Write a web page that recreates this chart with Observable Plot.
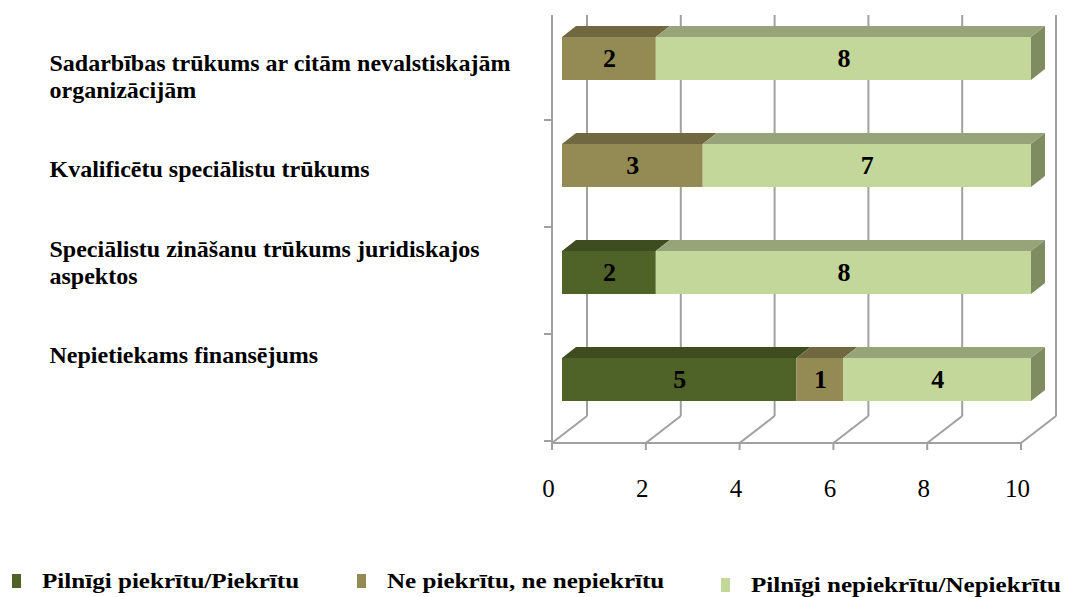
<!DOCTYPE html>
<html><head><meta charset="utf-8">
<script src="https://cdn.jsdelivr.net/npm/d3@7"></script>
<script src="https://cdn.jsdelivr.net/npm/@observablehq/plot@0.6"></script>
<style>
body{margin:0;background:#fff;}
#wrap{position:relative;width:1067px;height:597px;overflow:hidden;font-family:"Liberation Serif","Times New Roman",serif;}
#main{position:absolute;left:0;top:0;}
#labels{position:absolute;left:0;top:0;}
#legend{position:absolute;left:0;top:520px;width:1067px;height:77px;}
.li{position:absolute;top:50px;display:flex;align-items:center;font-weight:bold;font-size:22px;color:#000;white-space:nowrap;line-height:1;}
.sw{width:9px;height:14px;display:inline-block;margin-right:21px;}
.tx{display:inline-block;transform:scaleX(1.14);transform-origin:left center;}
</style></head><body>
<div id="wrap"><div id="main"></div><div id="labels"></div><div id="legend"></div></div>
<script>
// ---- data ----
const categories = [
  "Sadarbības trūkums ar citām nevalstiskajām organizācijām",
  "Kvalificētu speciālistu trūkums",
  "Speciālistu zināšanu trūkums juridiskajos aspektos",
  "Nepietiekams finansējums"
];
const categoryLabels = [
  "Sadarbības trūkums ar citām nevalstiskajām\norganizācijām",
  "Kvalificētu speciālistu trūkums",
  "Speciālistu zināšanu trūkums juridiskajos\naspektos",
  "Nepietiekams finansējums"
];
const seriesNames = ["Pilnīgi piekrītu/Piekrītu", "Ne piekrītu, ne nepiekrītu", "Pilnīgi nepiekrītu/Nepiekrītu"];
const agree    = [0, 0, 2, 5];
const neutral  = [2, 3, 0, 1];
const disagree = [8, 7, 8, 4];
const xTicks = [0, 2, 4, 6, 8, 10];

// ---- styles ----
const frontColors = ["#4F6228", "#948A54", "#C4D79B"];
const topColors   = ["#3E4D20", "#716841", "#97A479"];
const sideColors  = ["#38461C", "#6A613C", "#7F8B60"];
const FONT = "Liberation Serif, Times New Roman, serif";
const BACK = [25, -19], FRONT = [-10, 8];
const DEPTH = [14, 11];
const gridColor = "#A0A0A0";

const seriesValues = [agree, neutral, disagree];
const rows = [];
categories.forEach((c, i) => seriesNames.forEach((s, k) => rows.push({cat: c, series: s, value: seriesValues[k][i]})));

function bandInfo(sy) {
  const bw = typeof sy.bandwidth === "function" ? sy.bandwidth() : 43;
  const st = typeof sy.step === "function" ? sy.step() : 107.6;
  return [bw, st];
}

function walls(index, scales, values, dims) {
  const sx = scales.x, sy = scales.y;
  const [bw, st] = bandInfo(sy);
  const g = d3.create("svg:g").attr("fill", "none").attr("stroke", gridColor).attr("stroke-width", 2);
  const top = dims.marginTop, bot = dims.height - dims.marginBottom;
  const line = (x1, y1, x2, y2) => g.append("line").attr("x1", x1).attr("y1", y1).attr("x2", x2).attr("y2", y2);
  for (const t of xTicks) {
    line(sx(t) + BACK[0], top, sx(t) + BACK[0], bot + BACK[1]);
    line(sx(t) + FRONT[0], bot + FRONT[1], sx(t) + BACK[0], bot + BACK[1]);
    line(sx(t) + FRONT[0], bot + FRONT[1], sx(t) + FRONT[0], bot + FRONT[1] + 7);
  }
  line(sx(0) + FRONT[0], top, sx(0) + FRONT[0], bot + FRONT[1]);
  line(sx(0) + FRONT[0], bot + FRONT[1], sx(10) + FRONT[0], bot + FRONT[1]);
  for (const c of categories) {
    const yb = sy(c) + bw + (st - bw) / 2 + FRONT[1];
    line(sx(0) + FRONT[0] - 8, yb, sx(0) + FRONT[0], yb);
  }
  return g.node();
}

function barFaces(index, scales, values, dims) {
  const sx = scales.x, sy = scales.y;
  const [bw] = bandInfo(sy);
  const g = d3.create("svg:g");
  const poly = (pts, fill) => g.append("polygon").attr("points", pts.map(p => p.join(",")).join(" ")).attr("fill", fill);
  categories.forEach((c, i) => {
    let acc = 0, last = 0;
    const y0 = sy(c);
    seriesValues.forEach((arr, k) => {
      const v = arr[i];
      if (v <= 0) return;
      const x1 = sx(acc), x2 = sx(acc + v);
      acc += v; last = k;
      poly([[x1, y0], [x2, y0], [x2 + DEPTH[0], y0 - DEPTH[1]], [x1 + DEPTH[0], y0 - DEPTH[1]]], topColors[k]);
    });
    const xe = sx(acc);
    poly([[xe, y0], [xe + DEPTH[0], y0 - DEPTH[1]], [xe + DEPTH[0], y0 + bw - DEPTH[1]], [xe, y0 + bw]], sideColors[last]);
  });
  return g.node();
}

const main = Plot.plot({
  width: 1067, height: 520,
  marginTop: 15, marginBottom: 85, marginLeft: 562, marginRight: 36,
  style: {background: "none"},
  x: {domain: [0, 10], label: null, axis: null},
  y: {domain: categories, range: [36, 402], paddingInner: 0.6, paddingOuter: 0, axis: null},
  color: {domain: seriesNames, range: frontColors},
  marks: [
    walls,
    barFaces,
    Plot.barX(rows, Plot.stackX({x: "value", y: "cat", fill: "series"})),
    Plot.text(rows, Plot.stackX({x: "value", y: "cat", text: "value", filter: d => d.value > 0,
      fontSize: 26, fontWeight: "bold", fontFamily: FONT, fill: "#000"})),
    Plot.axisX(xTicks, {tickSize: 0, tickPadding: 44, dx: -14, tickFormat: d => String(d),
      fontSize: 25, fontFamily: FONT, fill: "#000", label: null})
  ]
});
document.getElementById("main").appendChild(main);

const labels = Plot.plot({
  width: 540, height: 520, margin: 0, marginLeft: 49,
  style: {background: "none"},
  y: {type: "point", domain: categories, range: [73.5, 355], padding: 0, axis: null},
  marks: [
    Plot.text(categories, {y: d => d, text: (d, i) => categoryLabels[i], frameAnchor: "left",
      textAnchor: "start", lineAnchor: "middle", lineHeight: 1.12,
      fontSize: 24, fontWeight: "bold", fontFamily: FONT, fill: "#000"})
  ]
});
document.getElementById("labels").appendChild(labels);

// legend
const legend = document.getElementById("legend");
const legendLeft = [12, 357, 721];
seriesNames.forEach((s, k) => {
  const it = document.createElement("div");
  it.className = "li";
  it.style.left = legendLeft[k] + "px";
  if (k === 2) it.style.top = "54px";
  const sw = document.createElement("span");
  sw.className = "sw"; sw.style.background = frontColors[k];
  const tx = document.createElement("span"); tx.className = "tx"; tx.textContent = s;
  it.appendChild(sw); it.appendChild(tx);
  legend.appendChild(it);
});
</script>
</body></html>
